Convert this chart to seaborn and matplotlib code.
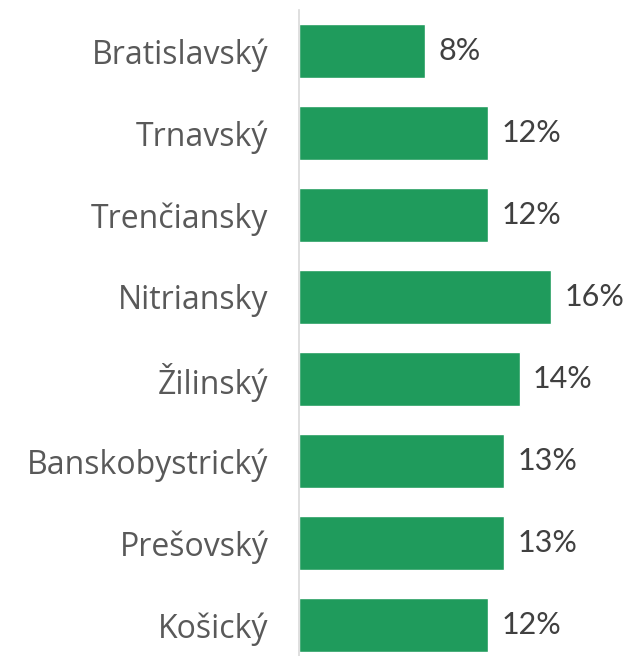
import matplotlib
matplotlib.use("Agg")
import matplotlib.pyplot as plt
import seaborn as sns
import pandas as pd

# data
regions = ["Bratislavský", "Trnavský", "Trenčiansky", "Nitriansky",
           "Žilinský", "Banskobystrický", "Prešovský", "Košický"]
shares = [8, 12, 12, 16, 14, 13, 13, 12]

df = pd.DataFrame({"region": regions, "share": shares})

sns.set_theme(style="white")
plt.rcParams['font.family'] = ['Lato', 'DejaVu Sans']

fig = plt.figure(figsize=(6.28, 6.56), dpi=100)
ax = fig.add_axes([0.476, -0.015, 0.502, 1.0])

sns.barplot(data=df, x="share", y="region", orient="h", color="#1f9b5c",
            saturation=1, width=0.66, ax=ax)

ax.set_xlim(0, 20)
ax.set_ylim(len(regions) - 0.5, -0.5)

for i, v in enumerate(shares):
    ax.text(v + 0.85, i, f"{v}%", va="center", ha="left", fontsize=22,
            color="#404040", family=["Lato", "DejaVu Sans"])

ax.set_xlabel("")
ax.set_ylabel("")
ax.set_xticks([])
ax.tick_params(axis="y", length=0, pad=22, labelsize=23, labelcolor="#595959")
for lab in ax.get_yticklabels():
    lab.set_family(["Open Sans", "DejaVu Sans"])

for s in ["top", "right", "bottom"]:
    ax.spines[s].set_visible(False)
ax.spines["left"].set_color("#d9d9d9")
ax.spines["left"].set_linewidth(1.2)

fig.savefig("out.png", dpi=100, facecolor="white")
